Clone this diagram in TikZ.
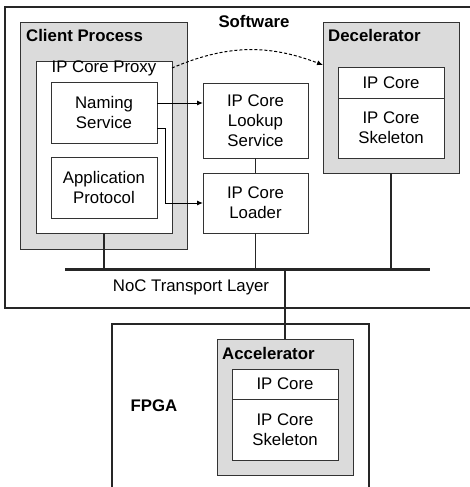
\documentclass[tikz,border=0pt]{standalone}
\usepackage{fontspec}
\setmainfont{Liberation Sans}
\usetikzlibrary{arrows.meta,calc}
\tikzset{
  grp/.style={draw=black!80, line width=0.9pt, fill=black!14, inner sep=0pt, outer sep=0pt},
  box/.style={draw=black!80, line width=0.9pt, fill=white, align=center, inner sep=0pt, outer sep=0pt, minimum width=106pt},
  lbl/.style={font=\fontsize{16.8}{20}\selectfont\bfseries, inner sep=0pt},
  wire/.style={line width=1.5pt, black!85},
  bus/.style={line width=3pt, black!85},
  tip/.style={-{Latex[length=6pt,width=5pt]}, line width=1pt}
}
\begin{document}
\begin{tikzpicture}[x=1pt, y=-1pt, font=\fontsize{16.8}{20}\selectfont]
	%%%%% START %%%%%
	\useasboundingbox (0,0) rectangle (469,487);
	
	% software side
	\draw[line width=1.5pt, black!85] (5,7) rectangle (480,308);
	\node[lbl] (sw) at (254,21) {Software};
	
	\node[grp, minimum width=167pt, minimum height=227pt] (client) at (103.5,135.5) {};
	\node[lbl, anchor=base west] (clientlbl) at (26,42) {Client Process};
	\node[box, minimum width=136pt, minimum height=172pt] (proxy) at (104,147) {};
	\node[anchor=base, inner sep=0pt] (proxylbl) at (104,73) {IP Core Proxy};
	\node[box, minimum height=61pt] (naming) at (104,112.5) {Naming\\Service};
	\node[box, minimum height=61pt] (app) at (104,187.5) {Application\\Protocol};
	
	\node[box, minimum width=105pt, minimum height=75pt] (lookup) at (255.5,120.5) {IP Core\\Lookup\\Service};
	\node[box, minimum width=105pt, minimum height=60pt] (loader) at (255.5,203) {IP Core\\Loader};
	\draw[wire] (lookup) -- (loader);
	
	\node[grp, minimum width=136pt, minimum height=151pt] (decel) at (391,97.5) {};
	\node[lbl, anchor=base west] (decellbl) at (328,42) {Decelerator};
	\node[box, minimum height=31pt] (core1) at (391,82.5) {IP Core};
	\node[box, minimum height=60pt] (skel1) at (391,128) {IP Core\\Skeleton};
	
	% bus
	\coordinate (busl) at (65,269);
	\coordinate (busr) at (430,269);
	\draw[bus] (busl) -- (busr);
	\node[inner sep=0pt] (noc) at (191,287) {NoC Transport Layer};
	\draw[wire] (proxy.south) -- (proxy.south |- busl);
	\draw[wire] (loader.south) -- (loader.south |- busl);
	\draw[wire] (decel.south) -- (decel.south |- busl);
	
	% fpga side
	\draw[line width=1.5pt, black!85] (112,324) rectangle (369,500);
	\node[lbl] (fpga) at (154,406) {FPGA};
	\node[grp, minimum width=136pt, minimum height=136pt] (accel) at (285,407) {};
	\node[lbl, anchor=base west] (accellbl) at (222,359) {Accelerator};
	\node[box, minimum height=30pt] (core2) at (285,384) {IP Core};
	\node[box, minimum height=61pt] (skel2) at (285,429.5) {IP Core\\Skeleton};
	\draw[wire] (accel.north |- busl) -- (accel.north);
	
	% arrows
	\coordinate (n1) at ([yshift=9.5pt]naming.east);
	\coordinate (n2) at ([yshift=-15.5pt]naming.east);
	\draw[tip] (n1) -- (n1 -| lookup.west);
	\draw[tip] (n2) -- ++(8,0) |- (loader.west);
	\coordinate (d1) at ([yshift=-7pt]proxy.north east);
	\coordinate (d2) at ([yshift=-43pt]decel.north west);
	\draw[tip, dash pattern=on 3pt off 2pt] (d1) to[bend left=22] (d2);
	
	%%%%% END %%%%%
\end{tikzpicture}
\end{document}
